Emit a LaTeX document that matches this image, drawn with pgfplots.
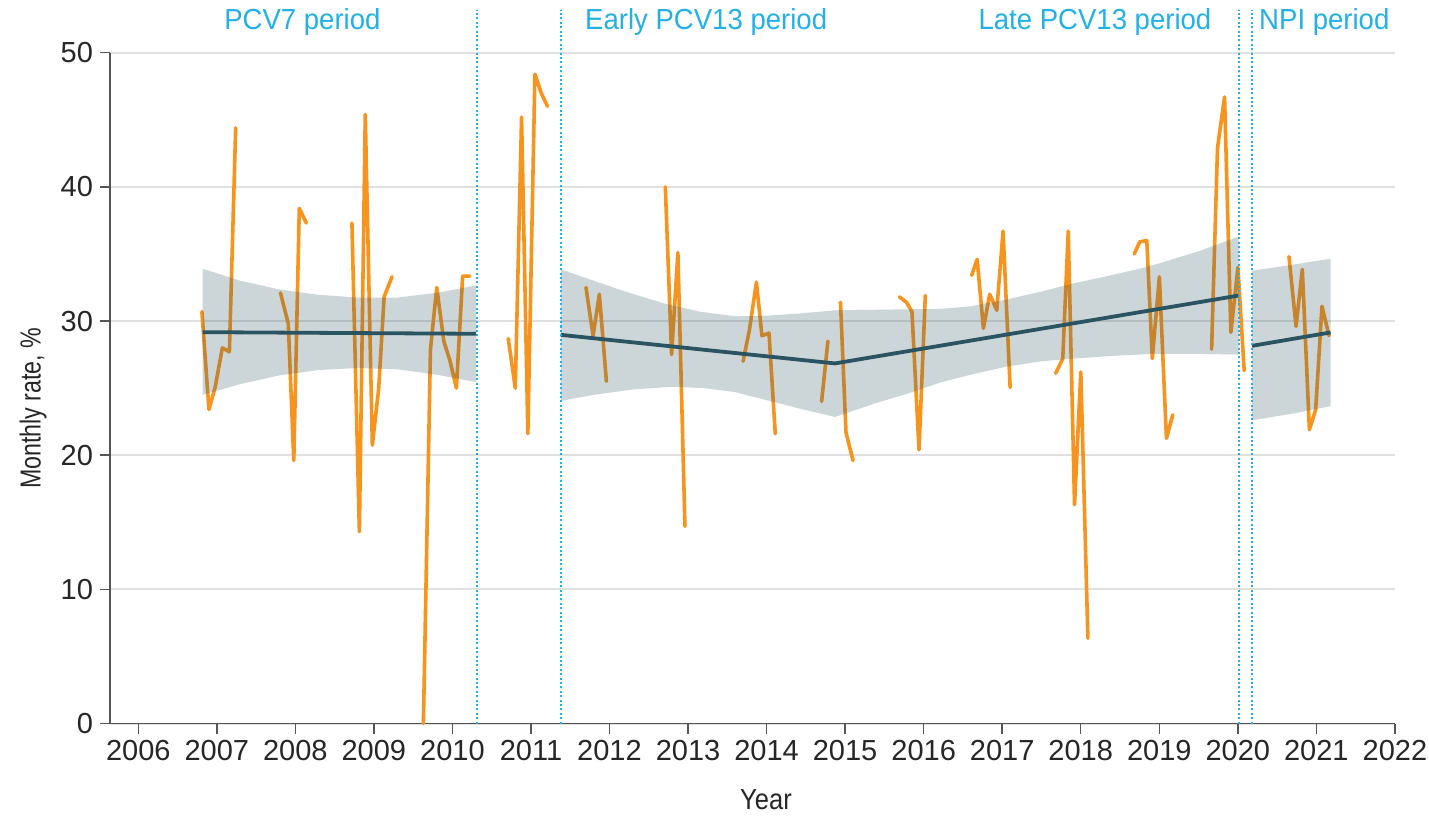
\documentclass[border=0pt]{standalone}
\usepackage{pgfplots}
\pgfplotsset{compat=1.18}
\usepackage{fontspec}
\setmainfont{Liberation Sans}[FakeStretch=0.88]
\newfontfamily\numfont{Liberation Sans}
\newfontfamily\ylabfont{Liberation Sans}[FakeStretch=0.8]
\newfontfamily\labfont{Liberation Sans}[FakeStretch=0.95]
\definecolor{orng}{HTML}{F7941D}
\definecolor{slate}{HTML}{2B5462}
\definecolor{cyanl}{HTML}{22B0E6}
\definecolor{gridc}{HTML}{E0E0E0}
\definecolor{axc}{HTML}{555555}
\pgfplotsset{/pgf/number format/1000 sep={}}
\begin{document}
\begin{tikzpicture}
\path[use as bounding box] (-55pt,-45.75pt) rectangle (659.5pt,361.75pt);
\begin{axis}[
  at={(0,0)}, anchor=south west,
  scale only axis, width=642.5pt, height=335.4pt,
  xmin=2005.64, xmax=2022, ymin=0, ymax=50,
  clip=false,
  axis x line*=bottom, axis y line*=left,
  axis line style={axc, line width=0.7pt, -},
  xtick={2006,2007,...,2022}, ytick={0,10,...,50},
  tick align=outside, major tick length=5pt,
  tick style={axc, line width=0.7pt},
  ymajorgrids, grid style={gridc, line width=1pt},
  tick label style={font=\fontsize{14.5}{16}\selectfont\numfont, text=black!85, /pgf/number format/assume math mode=true},
  xlabel={Year}, ylabel={\ylabfont Monthly rate, \%},
  label style={font=\fontsize{14.5}{16}\selectfont, text=black!85},
  xlabel style={at={(axis description cs:0.5105,-0.114)}, anchor=center},
  ylabel style={at={(axis description cs:-0.0599,0.47)}, anchor=center},
  orng line/.style={orng, line width=1.8pt, line join=round, line cap=round},
]
% orange monthly series (seasons)
\addplot[orng line] coordinates {(2006.81,30.7) (2006.90,23.4) (2006.98,25.1) (2007.07,28.0) (2007.16,27.7) (2007.24,44.4)};
\addplot[orng line] coordinates {(2007.81,32.1) (2007.91,29.8) (2007.98,19.6) (2008.05,38.4) (2008.14,37.3)};
\addplot[orng line] coordinates {(2008.72,37.3) (2008.815,14.3) (2008.89,45.4) (2008.98,20.75) (2009.06,24.9) (2009.13,31.8) (2009.23,33.3)};
\addplot[orng line] coordinates {(2009.63,0) (2009.72,27.9) (2009.80,32.5) (2009.89,28.5) (2009.97,27.0) (2010.05,25.0) (2010.13,33.35) (2010.22,33.35)};
\addplot[orng line] coordinates {(2010.71,28.7) (2010.80,25.0) (2010.88,45.2) (2010.96,21.6) (2011.05,48.4) (2011.13,47.0) (2011.21,46.0)};
\addplot[orng line] coordinates {(2011.70,32.5) (2011.79,28.9) (2011.87,32.0) (2011.96,25.5)};
\addplot[orng line] coordinates {(2012.71,40.0) (2012.79,27.5) (2012.87,35.1) (2012.96,14.7)};
\addplot[orng line] coordinates {(2013.70,27.0) (2013.78,29.3) (2013.87,32.9) (2013.94,28.9) (2014.03,29.1) (2014.11,21.6)};
\addplot[orng line] coordinates {(2014.70,24.0) (2014.78,28.5)};
\addplot[orng line] coordinates {(2014.94,31.4) (2015.01,21.7) (2015.10,19.6)};
\addplot[orng line] coordinates {(2015.69,31.8) (2015.78,31.4) (2015.85,30.7) (2015.94,20.4) (2016.02,31.9)};
\addplot[orng line] coordinates {(2016.61,33.4) (2016.68,34.6) (2016.76,29.45) (2016.84,32.0) (2016.93,30.8) (2017.01,36.7) (2017.10,25.05)};
\addplot[orng line] coordinates {(2017.68,26.1) (2017.77,27.2) (2017.84,36.7) (2017.92,16.3) (2018.00,26.2) (2018.09,6.35)};
\addplot[orng line] coordinates {(2018.68,35.0) (2018.75,35.9) (2018.84,36.0) (2018.91,27.2) (2019.00,33.3) (2019.09,21.25) (2019.17,23.0)};
\addplot[orng line] coordinates {(2019.665,27.9) (2019.74,42.9) (2019.83,46.7) (2019.91,29.15) (2020.00,34.0) (2020.08,26.3)};
\addplot[orng line] coordinates {(2020.65,34.8) (2020.74,29.6) (2020.82,33.85) (2020.91,21.9) (2020.99,23.4) (2021.07,31.1) (2021.16,28.9)};
% confidence bands
\addplot[draw=none, fill=slate, fill opacity=0.24] coordinates {
 (2006.82,33.9) (2007.3,33.0) (2007.8,32.35) (2008.3,31.95) (2008.8,31.75) (2009.3,31.75) (2009.8,32.1) (2010.30,32.65)
 (2010.30,25.45) (2009.8,26.0) (2009.3,26.4) (2008.8,26.5) (2008.3,26.35) (2007.8,25.95) (2007.3,25.3) (2006.82,24.5)};
\addplot[draw=none, fill=slate, fill opacity=0.24] coordinates {
 (2011.38,33.85) (2011.8,33.0) (2012.2,32.2) (2012.7,31.3) (2013.15,30.7) (2013.6,30.35) (2014.0,30.4) (2014.4,30.55) (2014.87,30.8)
 (2015.5,30.85) (2016.2,30.9) (2016.6,31.1) (2017.05,31.6) (2017.5,32.2) (2017.9,32.8) (2018.3,33.3) (2018.75,33.9) (2019.0,34.3) (2019.5,35.2) (2020.01,36.3)
 (2020.01,27.5) (2019.5,27.55) (2018.9,27.55) (2018.4,27.4) (2017.9,27.2) (2017.5,27.0) (2017.05,26.6) (2016.6,26.0) (2016.2,25.4) (2015.8,24.6) (2015.4,23.9)
 (2014.87,22.85) (2014.4,23.5) (2014.0,24.1) (2013.6,24.7) (2013.2,25.0) (2012.8,25.1) (2012.3,24.9) (2011.8,24.5) (2011.38,24.05)};
\addplot[draw=none, fill=slate, fill opacity=0.24] coordinates {
 (2020.18,33.75) (2020.7,34.2) (2021.18,34.65) (2021.18,23.65) (2020.7,23.1) (2020.18,22.6)};
% fitted lines
\addplot[slate, line width=1.9pt] coordinates {(2006.82,29.17) (2010.30,29.05)};
\addplot[slate, line width=1.9pt, line join=round] coordinates {(2011.38,28.97) (2014.87,26.84) (2020.01,31.9)};
\addplot[slate, line width=1.9pt] coordinates {(2020.18,28.15) (2021.18,29.15)};
% period boundaries
\addplot[cyanl, line width=1pt, dash pattern=on 1pt off 1.2pt] coordinates {(2010.31,0) (2010.31,53.2)};
\addplot[cyanl, line width=1pt, dash pattern=on 1pt off 1.2pt] coordinates {(2011.38,0) (2011.38,53.2)};
\addplot[cyanl, line width=1pt, dash pattern=on 1pt off 1.2pt] coordinates {(2020.01,0) (2020.01,53.2)};
\addplot[cyanl, line width=1pt, dash pattern=on 1pt off 1.2pt] coordinates {(2020.18,0) (2020.18,53.2)};
% period labels
\node[cyanl, font=\fontsize{14.5}{16}\selectfont\labfont, anchor=center] at (axis cs:2008.09,52.27) {PCV7 period};
\node[cyanl, font=\fontsize{14.5}{16}\selectfont\labfont, anchor=center] at (axis cs:2013.23,52.27) {Early PCV13 period};
\node[cyanl, font=\fontsize{14.5}{16}\selectfont\labfont, anchor=center] at (axis cs:2018.18,52.27) {Late PCV13 period};
\node[cyanl, font=\fontsize{14.5}{16}\selectfont\labfont, anchor=center] at (axis cs:2021.10,52.27) {NPI period};
\end{axis}
\end{tikzpicture}
\end{document}
